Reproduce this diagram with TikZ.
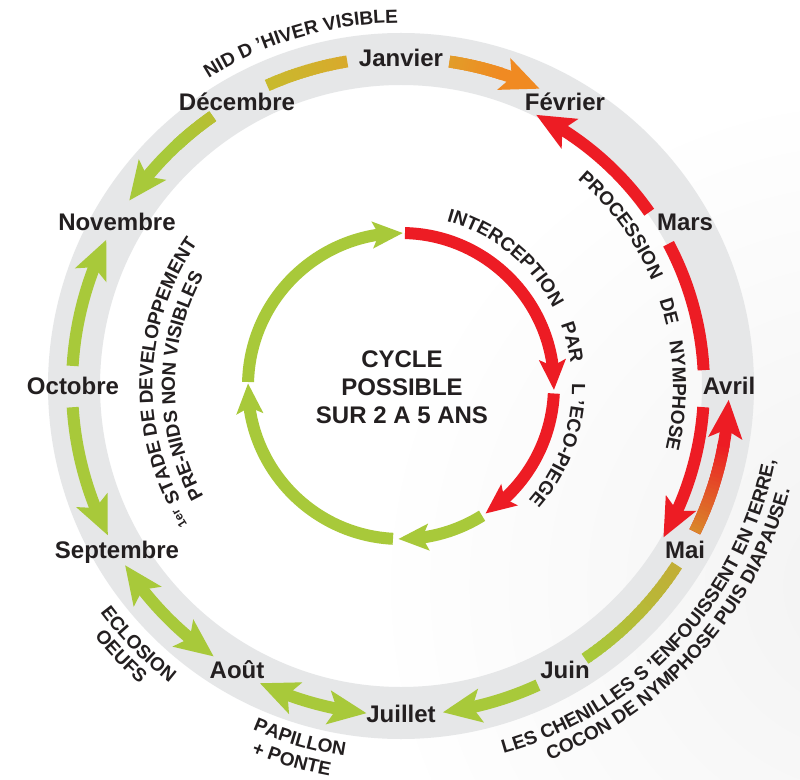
\documentclass[tikz,border=0pt]{standalone}
\usepackage{fontspec}
\setmainfont{Liberation Sans}
\usetikzlibrary{arrows.meta,bending,decorations.text}

\definecolor{ringgray}{HTML}{E6E7E8}
\definecolor{leafgreen}{HTML}{A8C93A}
\definecolor{alertred}{HTML}{ED1C24}
\definecolor{warmorange}{HTML}{F08A22}
\definecolor{mossyellow}{HTML}{C8BA2D}
\definecolor{golden}{HTML}{D8AA2C}
\definecolor{janstart}{HTML}{E29D29}
\definecolor{rust}{HTML}{D9862A}
\definecolor{olivebrown}{HTML}{C2AE36}
\definecolor{olivegreen}{HTML}{B9BE31}
\definecolor{inkblack}{HTML}{231F20}

\newcommand\monthfont{\fontsize{24}{28}\selectfont\bfseries}
\newcommand\lblfont{\fontsize{19}{19}\selectfont\bfseries}
\newcommand\supfont{\fontsize{12}{12}\selectfont\bfseries}

% arc drawn as a colour ramp: radius, from, to, start colour, end colour
\newcommand\gradarc[5]{%
  \foreach \k in {0,...,23}{%
    \pgfmathsetmacro\ga{#2+(#3-#2)*\k/24}%
    \pgfmathsetmacro\gb{#2+(#3-#2)*min(\k+1.4,24)/24}%
    \pgfmathtruncatemacro\gp{100-100*\k/23}%
    \draw[band, draw=#4!\gp!#5] (\ga:#1) arc[start angle=\ga, end angle=\gb, radius=#1];
  }}

\tikzset{
  month/.style={anchor=base, yshift=-8.6pt, font=\monthfont, text=inkblack, inner sep=0pt},
  band/.style={line width=12pt},
  bigtip/.style={-{Stealth[length=38pt,width=33pt,inset=8pt]}},
  twotip/.style={{Stealth[length=38pt,width=33pt,inset=8pt]}-{Stealth[length=38pt,width=33pt,inset=8pt]}},
  smalltip/.style={-{Stealth[length=30pt,width=26pt,inset=6pt]}}
}

\begin{document}
\begin{tikzpicture}[x=1pt,y=1pt]

  \useasboundingbox (-401,-393) rectangle (399,386);
  \fill[white] (-401,-393) rectangle (399,386);
  \begin{scope}
    \clip (-401,-393) rectangle (399,386);
    \shade[inner color=black!5, outer color=white] (470,-200) circle (500);
  \end{scope}
  \draw[ringgray, line width=52pt] (0,0) circle (327);

  \begin{scope}
    \gradarc{329}{114}{99.4}{mossyellow}{golden}
    \draw[band, warmorange, bigtip] (81.5:328) arc[start angle=81.5, end angle=65, radius=328];
    \gradarc{328}{81.5}{72}{janstart}{warmorange}
    \draw[band, alertred, bigtip] (35:303) arc[start angle=35, end angle=63.5, radius=303];
    \draw[band, alertred] (28:303) arc[start angle=28, end angle=3, radius=303];
    \draw[band, alertred, bigtip] (-4:303) arc[start angle=-4, end angle=-30, radius=303];
    \draw[band, alertred, bigtip] (-26.4:328) arc[start angle=-26.4, end angle=-2.4, radius=328];
    \gradarc{328}{-26.4}{-10}{rust}{alertred}
    \gradarc{329}{-33}{-56}{olivebrown}{leafgreen}
    \draw[band, leafgreen, bigtip] (-65.4:329) arc[start angle=-65.4, end angle=-82.7, radius=329];
    \draw[band, leafgreen, twotip] (-96:329) arc[start angle=-96, end angle=-115.4, radius=329];
    \draw[band, leafgreen, twotip] (-124.7:329) arc[start angle=-124.7, end angle=-147, radius=329];
    \draw[band, leafgreen, bigtip] (183.7:329) arc[start angle=183.7, end angle=207, radius=329];
    \draw[band, leafgreen, bigtip] (176.5:329) arc[start angle=176.5, end angle=153.6, radius=329];
    \draw[band, leafgreen, bigtip] (124.9:329) arc[start angle=124.9, end angle=145.7, radius=329];
    \gradarc{329}{124.9}{133}{olivegreen}{leafgreen}
  \end{scope}

  \begin{scope}
    \draw[band, alertred, smalltip] (88.5:153) arc[start angle=88.5, end angle=-1.5, radius=153];
    \draw[band, alertred, smalltip] (-2.8:153) arc[start angle=-2.8, end angle=-56.5, radius=153];
    \draw[band, leafgreen, smalltip] (-58:153) arc[start angle=-58, end angle=-91, radius=153];
    \draw[band, leafgreen, smalltip] (-93:153) arc[start angle=-93, end angle=-181, radius=153];
    \draw[band, leafgreen, smalltip] (178.5:153) arc[start angle=178.5, end angle=89.3, radius=153];
  \end{scope}

  \node[month] (jan) at (90:328)   {Janvier};
  \node[month] (feb) at (60:328)   {Février};
  \node[month] (mar) at (30:328)   {Mars};
  \node[month] (apr) at (0:328)    {Avril};
  \node[month] (may) at (-30:328)  {Mai};
  \node[month] (jun) at (-60:328)  {Juin};
  \node[month] (jul) at (-90:328)  {Juillet};
  \node[month] (aug) at (-120:328) {Août};
  \node[month] (sep) at (-150:328) {Septembre};
  \node[month] (oct) at (180:328)  {Octobre};
  \node[month] (nov) at (150:328)  {Novembre};
  \node[month] (dec) at (120:328)  {Décembre};

  \node[align=center, font=\monthfont, text=inkblack] (cycle) at (1,-1) {CYCLE\\POSSIBLE\\SUR 2 A 5 ANS};

  \begin{scope}[every path/.style={decorate}]
    \path[decoration={text along path, text align=center, text color=inkblack,
      text={|\lblfont|NID D 'HIVER VISIBLE}}] (136.25:363) arc[start angle=136.25, end angle=76.25, radius=363];
    \path[decoration={text along path, text align=left, text color=inkblack,
      text={|\lblfont|PROCESSION}}] (49.5:272) arc[start angle=49.5, end angle=10, radius=272];
    \path[decoration={text along path, text align=left, text color=inkblack,
      text={|\lblfont|DE}}] (18.3:272) arc[start angle=18.3, end angle=0, radius=272];
    \path[decoration={text along path, text align=left, text color=inkblack,
      text={|\lblfont|NYMPHOSE}}] (9.5:272) arc[start angle=9.5, end angle=-30, radius=272];
    \path[decoration={text along path, text align=left, text color=inkblack,
      text={|\lblfont|INTERCEPTION}}] (74.5:171) arc[start angle=74.5, end angle=10, radius=171];
    \path[decoration={text along path, text align=left, text color=inkblack,
      text={|\lblfont|PAR}}] (21:171) arc[start angle=21, end angle=0, radius=171];
    \path[decoration={text along path, text align=left, text color=inkblack,
      text={|\lblfont|L 'ECO-PIEGE}}] (1:171) arc[start angle=1, end angle=-60, radius=171];
    \path[decoration={text along path, text align=left, text color=inkblack, raise=6pt,
      text={|\supfont|1er}}] (213:248.5) arc[start angle=213, end angle=190, radius=248.5];
    \path[decoration={text along path, text align=left, text color=inkblack,
      text={|\lblfont|STADE DE DEVELOPPEMENT}}] (207.5:248.5) arc[start angle=207.5, end angle=130, radius=248.5];
    \path[decoration={text along path, text align=center, text color=inkblack,
      text={|\lblfont|PRE-NIDS NON VISIBLES}}] (215:226) arc[start angle=215, end angle=145, radius=226];
    \path[decoration={text along path, text align=center, text color=inkblack,
      text={|\lblfont|ECLOSION}}] (204.5:376.5) arc[start angle=204.5, end angle=244.5, radius=376.5];
    \path[decoration={text along path, text align=center, text color=inkblack,
      text={|\lblfont|OEUFS}}] (204:396) arc[start angle=204, end angle=244, radius=396];
    \path[decoration={text along path, text align=center, text color=inkblack,
      text={|\lblfont|PAPILLON}}] (234:374.5) arc[start angle=234, end angle=274, radius=374.5];
    \path[decoration={text along path, text align=center, text color=inkblack,
      text={|\lblfont|+ PONTE}}] (233.7:396.5) arc[start angle=233.7, end angle=273.7, radius=396.5];
    \path[decoration={text along path, text align=center, text color=inkblack,
      text={|\lblfont|LES CHENILLES S 'ENFOUISSENT EN TERRE,}}] (-82.85:381.5) arc[start angle=-82.85, end angle=-2.85, radius=381.5];
    \path[decoration={text along path, text align=center, text color=inkblack,
      text={|\lblfont|COCON DE NYMPHOSE PUIS DIAPAUSE.}}] (-81.65:402.5) arc[start angle=-81.65, end angle=-1.65, radius=402.5];
  \end{scope}

\end{tikzpicture}
\end{document}
